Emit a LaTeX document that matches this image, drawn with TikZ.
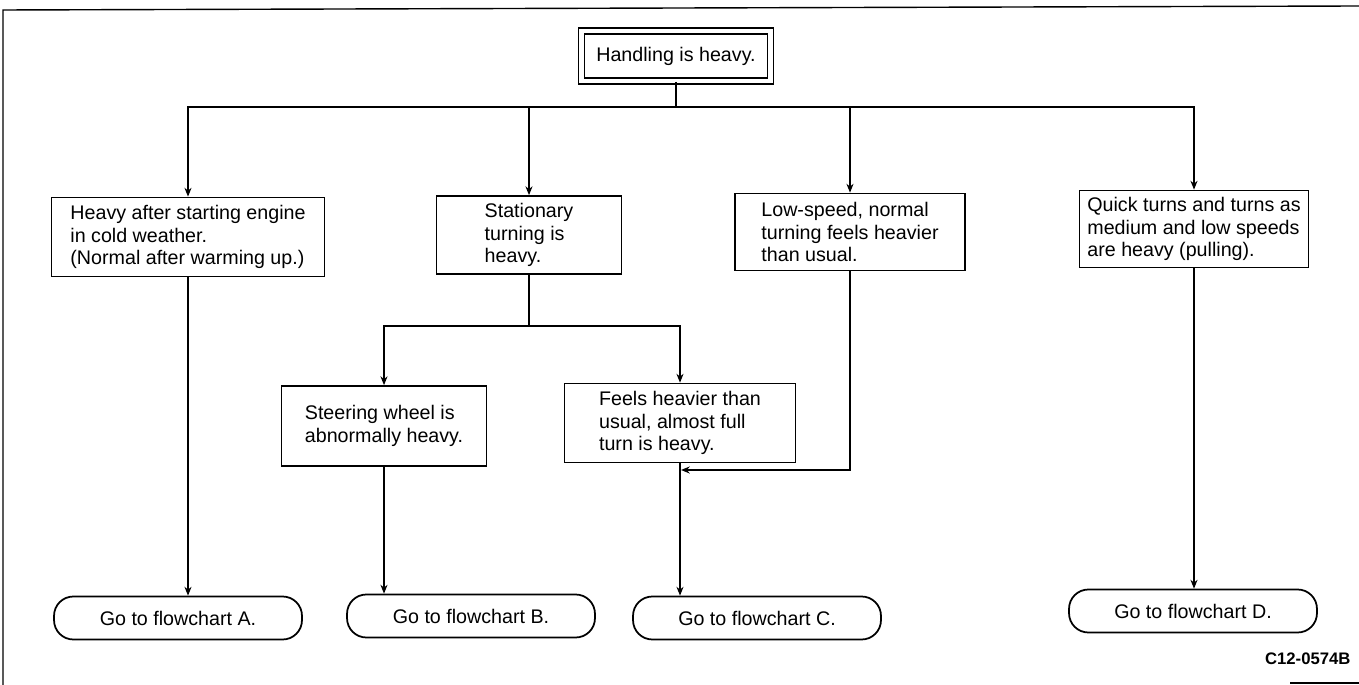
\documentclass[tikz,border=0pt]{standalone}
\usepackage{fontspec}
\setmainfont{Liberation Sans}
\usetikzlibrary{
    arrows.meta,
    calc
}
\tikzset{
  every path/.style={
    black,
    line width=0.8pt
  },
  cond/.style={
    draw,
    line width=1pt,
    align=left,
    inner sep=0pt,
    font=\fontsize{11.2}{13}\selectfont
  },
  goto/.style={
    draw,
    line width=1pt,
    rounded corners=11pt,
    minimum width=4.96cm,
    minimum height=0.86cm,
    font=\fontsize{11.2}{13}\selectfont
  },
  title/.style={
    draw,
    double,
    double distance=2.5pt,
    line width=0.9pt,
    font=\fontsize{11.2}{13}\selectfont
  }
}

\begin{document}
\begin{tikzpicture}[x=0.02cm,y=-0.02cm,>={Stealth[length=5pt,width=4pt]}]

    % パラメータ
    \def\busy{107}   % 上の分岐線
    \def\suby{326}   % 下の分岐線
    \def\joiny{470}  % 合流

    \useasboundingbox (0,0) rectangle (1359,685);

    % 枠
    \draw (3,685) -- (3,10) -- (1359,6);
    \draw (1290,683) -- (1359,683);

    % 最上段
    \node[title,minimum width=3.78cm,minimum height=1.0cm] (top) at (676,56) {Handling is heavy.};

    % 症状
    \node[cond,minimum width=5.46cm,minimum height=1.58cm] (heavycold) at (188,237)
        {Heavy after starting engine\\in cold weather.\\(Normal after warming up.)};
    \node[cond,minimum width=3.7cm,minimum height=1.56cm] (stationary) at (529,235)
        {Stationary\\turning is\\heavy.};
    \node[cond,minimum width=4.6cm,minimum height=1.54cm] (lowspeed) at (850,232)
        {Low-speed, normal\\turning feels heavier\\than usual.};
    \node[cond,minimum width=4.58cm,minimum height=1.54cm] (quick) at (1194,229)
        {Quick turns and turns as\\medium and low speeds\\are heavy (pulling).};
    \node[cond,minimum width=4.1cm,minimum height=1.6cm] (wheel) at (384,426)
        {Steering wheel is\\abnormally heavy.};
    \node[cond,minimum width=4.62cm,minimum height=1.58cm] (fullturn) at (680,423)
        {Feels heavier than\\usual, almost full\\turn is heavy.};

    % フローチャートへ
    \node[goto] (chartA) at (178,618) {Go to flowchart A.};
    \node[goto] (chartB) at (471,616) {Go to flowchart B.};
    \node[goto] (chartC) at (757,618) {Go to flowchart C.};
    \node[goto] (chartD) at (1193,611) {Go to flowchart D.};

    % 分岐点
    \coordinate (bus) at (676,\busy);
    \coordinate (sub) at (529,\suby);
    \coordinate (join) at (681,\joiny);

    % 上の分岐
    \draw (top) -- (bus);
    \foreach \n in {heavycold,stationary,lowspeed,quick} {
        \draw[->] (bus) -| (\n.north);
    }

    % 下の分岐
    \draw (stationary) -- (sub);
    \foreach \n in {wheel,fullturn} {
        \draw[->] (sub) -| (\n.north);
    }

    % フローチャートへの線
    \draw[->] (heavycold.south) -- (heavycold.south |- chartA.north);
    \draw[->] (wheel.south) -- (wheel.south |- chartB.north);
    \draw[->] (fullturn.south) -- (fullturn.south |- chartC.north);
    \draw[->] (lowspeed.south) |- (join);
    \draw[->,line width=1.3pt] (quick.south) -- (quick.south |- chartD.north);

    % 図番号
    \node[anchor=east,font=\fontsize{9.5}{11}\selectfont\bfseries] (code) at (1357,659) {C12-0574B};

\end{tikzpicture}
\end{document}
